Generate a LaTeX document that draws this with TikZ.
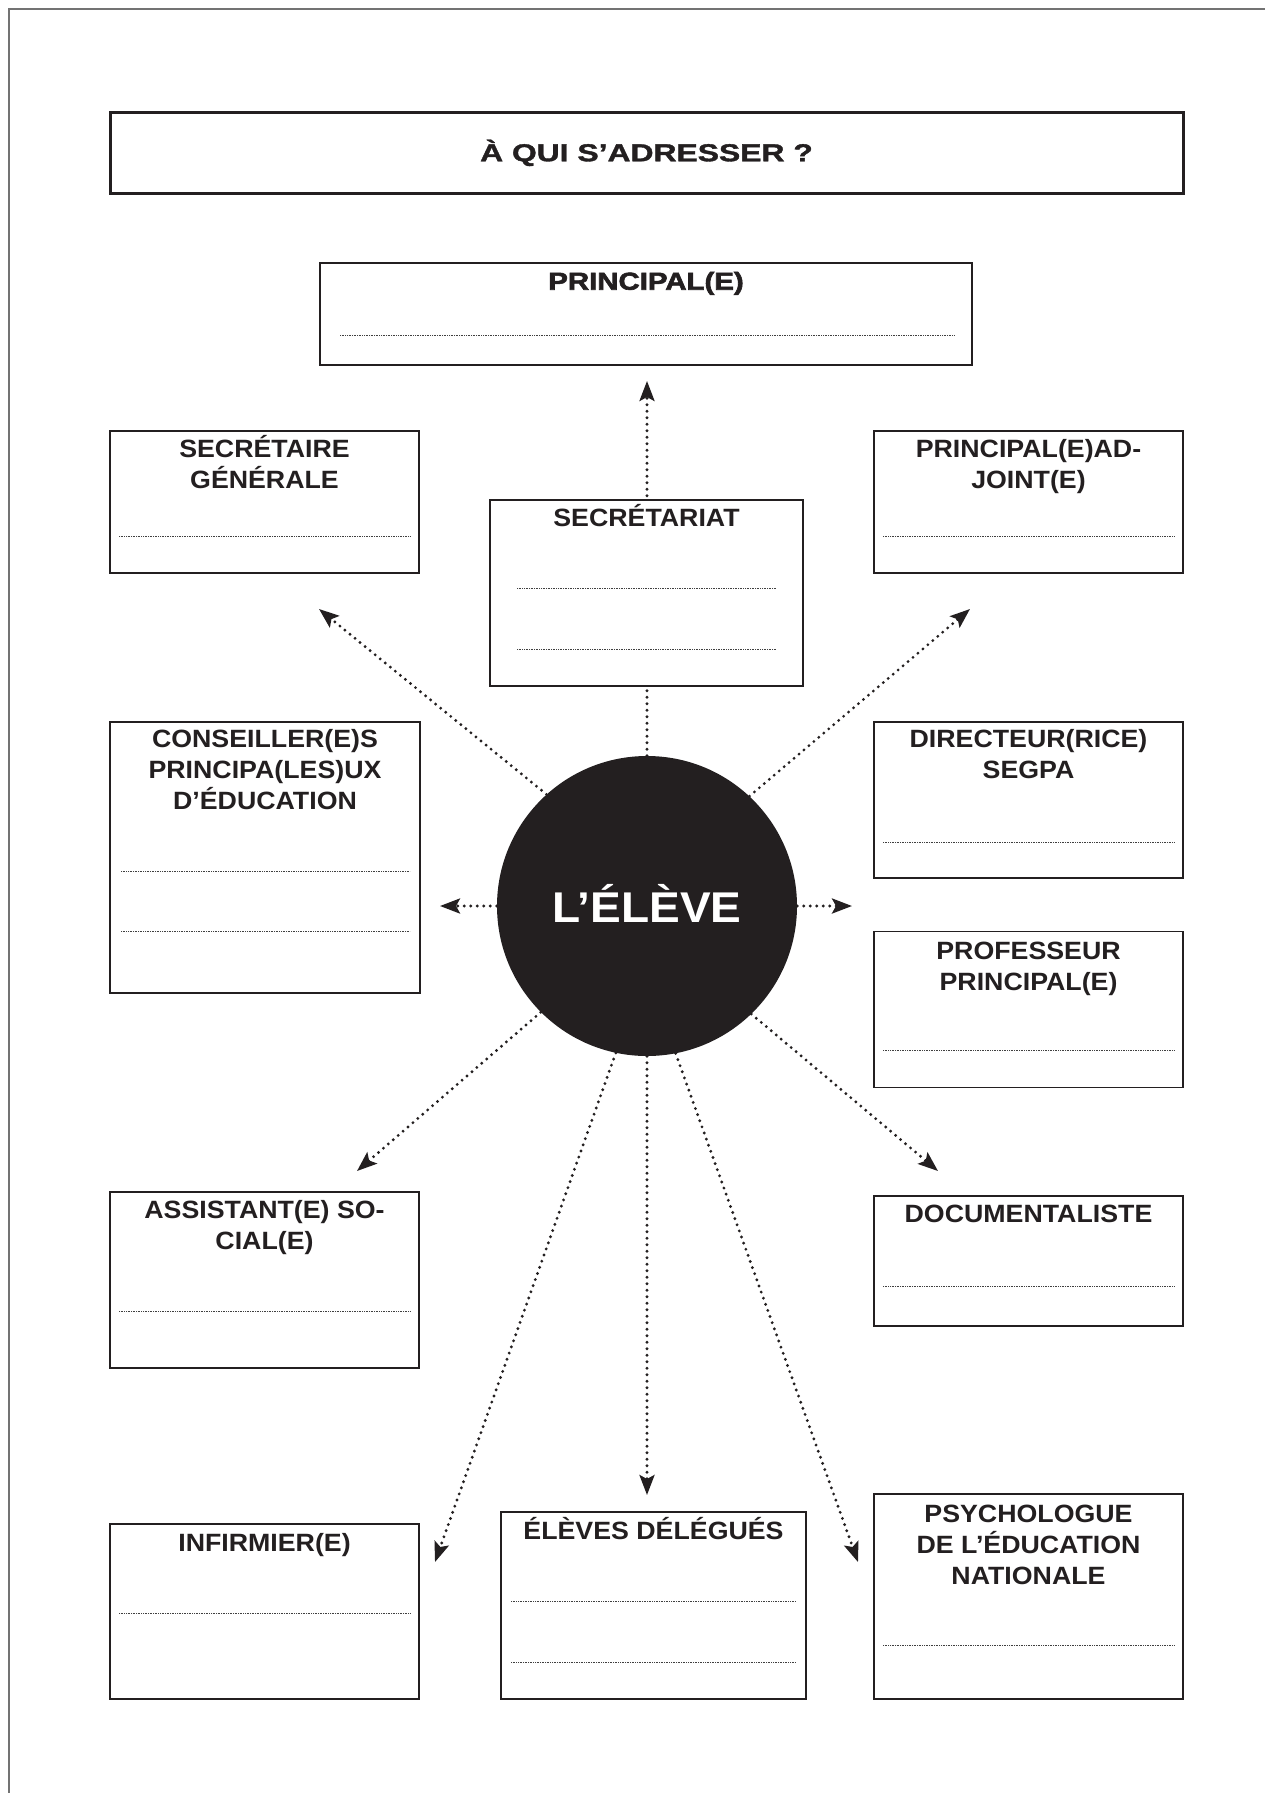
\documentclass[tikz,border=0pt]{standalone}
\usepackage{fontspec}
\setmainfont{Liberation Sans}
\newfontfamily\lblfont[FakeStretch=1.07]{Liberation Sans}
\newfontfamily\prfont[FakeStretch=1.2,FakeBold=2.5]{Liberation Sans}
\newfontfamily\ttlfont[FakeStretch=1.3,FakeBold=1.5]{Liberation Sans}
\usetikzlibrary{arrows.meta}
\definecolor{ink}{HTML}{231F20}
\begin{document}
\begin{tikzpicture}[x=1pt,y=-1pt,
  box/.style={draw=ink, line width=1.6pt, fill=white, inner sep=0pt, rectangle},
  lbl/.style={anchor=north, inner sep=0pt, align=center, text=ink, font=\lblfont\bfseries\fontsize{25}{31}\selectfont},
  fillline/.style={draw=black!75, line width=0.8pt, dash pattern=on 0.8pt off 0.9pt},
  conn/.style={draw=ink, line width=3.2pt, line cap=round, dash pattern=on 0pt off 6.5pt, -{Stealth[length=20pt,width=15pt,inset=4pt]}},
]
\useasboundingbox (0,0) rectangle (1265,1793);
\fill[white] (0,0) rectangle (1265,1793);
\draw[black!55, line width=1.4pt] (9,1793) -- (9,9) -- (1265,9);

% central circle
\node[circle, fill=ink, minimum size=300pt, inner sep=0pt] (el) at (647,906) {};

% arrow tip positions
\coordinate (tUp) at (647,381);
\coordinate (tUL) at (319,609);
\coordinate (tUR) at (970,609);
\coordinate (tL) at (440,906);
\coordinate (tR) at (852,906);
\coordinate (tLL) at (357,1171);
\coordinate (tLR) at (938,1171);
\coordinate (tDL) at (435,1562);
\coordinate (tD) at (647,1495);
\coordinate (tDR) at (858,1562);

% connectors
\draw[conn] (el.90) -- (tUp);
\draw[conn] (el.132) -- (tUL);
\draw[conn] (el.47.5) -- (tUR);
\draw[conn] (el.180) -- (tL);
\draw[conn] (el.0) -- (tR);
\draw[conn] (el.225) -- (tLL);
\draw[conn] (el.314) -- (tLR);
\draw[conn] (el.258.5) -- (tDL);
\draw[conn] (el.270) -- (tD);
\draw[conn] (el.281.2) -- (tDR);

% title
\node[box, line width=3pt, minimum width=1073pt, minimum height=81pt, text height=17.5pt, text depth=0pt, text=ink, font=\ttlfont\bfseries\fontsize{24.5}{30}\selectfont] (title) at (646.5,152.5) {À QUI S’ADRESSER ?};

% boxes
\node[box, line width=2.4pt, minimum width=652pt, minimum height=102pt] (pr) at (646,314) {};
\node[box, minimum width=309pt, minimum height=142pt] (sg) at (264.5,502) {};
\node[box, minimum width=309pt, minimum height=142pt] (pa) at (1028.5,502) {};
\node[box, minimum width=313pt, minimum height=186pt] (sec) at (646.5,593) {};
\node[box, minimum width=310pt, minimum height=271pt] (cpe) at (265,857.5) {};
\node[box, minimum width=309pt, minimum height=156pt] (dir) at (1028.5,800) {};
\node[box, minimum width=309pt, minimum height=156pt] (prof) at (1028.5,1009.5) {};
\node[box, minimum width=309pt, minimum height=176pt] (asst) at (264.5,1280) {};
\node[box, minimum width=309pt, minimum height=130pt] (doc) at (1028.5,1261) {};
\node[box, minimum width=309pt, minimum height=175pt] (inf) at (264.5,1611.5) {};
\node[box, minimum width=305pt, minimum height=187pt] (elv) at (653.5,1605.5) {};
\node[box, minimum width=309pt, minimum height=205pt] (psy) at (1028.5,1596.5) {};

% labels
\node[lbl, font=\prfont\bfseries\fontsize{24.5}{31}\selectfont] (pr-t) at ([yshift=-6pt]pr.north) {\vphantom{É}PRINCIPAL(E)};
\node[lbl] (sg-t) at ([yshift=-5pt]sg.north) {\vphantom{É}SECRÉTAIRE\\GÉNÉRALE};
\node[lbl] (pa-t) at ([yshift=-5pt]pa.north) {\vphantom{É}PRINCIPAL(E)AD-\\JOINT(E)};
\node[lbl] (sec-t) at ([yshift=-5pt]sec.north) {\vphantom{É}SECRÉTARIAT};
\node[lbl] (cpe-t) at ([yshift=-4pt]cpe.north) {\vphantom{É}CONSEILLER(E)S\\PRINCIPA(LES)UX\\D’ÉDUCATION};
\node[lbl] (dir-t) at ([yshift=-4pt]dir.north) {\vphantom{É}DIRECTEUR(RICE)\\SEGPA};
\node[lbl] (prof-t) at ([yshift=-6pt]prof.north) {\vphantom{É}PROFESSEUR\\PRINCIPAL(E)};
\node[lbl] (asst-t) at ([yshift=-5pt]asst.north) {\vphantom{É}ASSISTANT(E) SO-\\CIAL(E)};
\node[lbl] (doc-t) at ([yshift=-5pt]doc.north) {\vphantom{É}DOCUMENTALISTE};
\node[lbl] (inf-t) at ([yshift=-6pt]inf.north) {\vphantom{É}INFIRMIER(E)};
\node[lbl] (elv-t) at ([yshift=-6pt]elv.north) {\vphantom{É}ÉLÈVES DÉLÉGUÉS};
\node[lbl] (psy-t) at ([yshift=-7pt]psy.north) {\vphantom{É}PSYCHOLOGUE\\DE L’ÉDUCATION\\NATIONALE};

% writing lines
\draw[fillline] (340,335) -- (954,335);
\draw[fillline] (119,536) -- (410,536);
\draw[fillline] (883,536) -- (1174,536);
\draw[fillline] (517,588) -- (777,588);
\draw[fillline] (517,649) -- (777,649);
\draw[fillline] (121,871) -- (410,871);
\draw[fillline] (121,931) -- (410,931);
\draw[fillline] (883,842) -- (1174,842);
\draw[fillline] (883,1050) -- (1174,1050);
\draw[fillline] (119,1311) -- (410,1311);
\draw[fillline] (883,1286) -- (1174,1286);
\draw[fillline] (119,1613) -- (410,1613);
\draw[fillline] (511,1601) -- (796,1601);
\draw[fillline] (511,1662) -- (796,1662);
\draw[fillline] (883,1645) -- (1174,1645);

% circle label
\node[anchor=base, inner sep=0pt, text=white, font=\lblfont\bfseries\fontsize{43}{50}\selectfont] (elt) at (647,922) {L’ÉLÈVE};
\end{tikzpicture}
\end{document}
